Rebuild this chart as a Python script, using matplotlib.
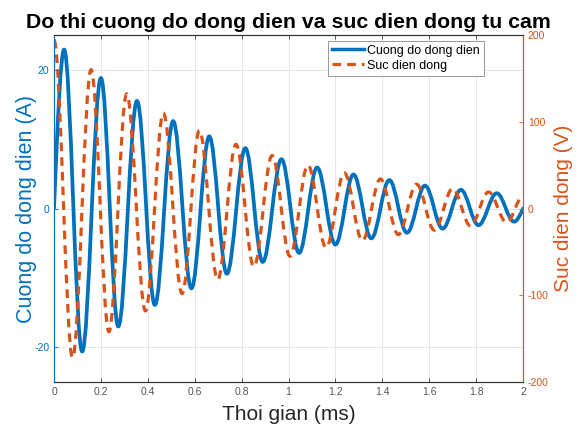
import matplotlib
matplotlib.use("Agg")
import matplotlib.pyplot as plt
from matplotlib.path import Path
from matplotlib.patches import PathPatch
from matplotlib.lines import Line2D

# ====== data (extrema of each curve) ======
# current (A): starts at 0, then alternating peaks / troughs
i_t = [0.0, 0.043, 0.120, 0.200, 0.274, 0.354, 0.430, 0.508, 0.586, 0.662, 0.737,
       0.816, 0.890, 0.970, 1.045, 1.122, 1.200, 1.277, 1.353, 1.430, 1.505,
       1.582, 1.657, 1.735, 1.810, 1.888, 1.962, 2.0]
i_v = [0.0, 22.9, -20.6, 18.8, -17.0, 15.5, -13.9, 12.6, -11.5, 10.4, -9.4,
       8.7, -7.7, 7.1, -6.4, 5.9, -5.2, 4.9, -4.3, 4.1, -3.5,
       3.3, -2.9, 2.7, -2.4, 2.2, -1.9, 0.0]

# emf (V): starts near its first peak
e_t = [0.0, 0.079, 0.158, 0.234, 0.310, 0.390, 0.466, 0.546, 0.620, 0.698, 0.776,
       0.852, 0.930, 1.006, 1.083, 1.160, 1.238, 1.315, 1.392, 1.468, 1.546,
       1.622, 1.700, 1.776, 1.853, 1.930, 2.0]
e_v = [194, -172, 160, -142, 132, -118, 110, -98, 90, -82, 74,
       -67, 61, -55, 50, -45, 41, -37, 34, -30, 28,
       -25, 23, -20, 19, -16, 14]

xticks = [0, 0.2, 0.4, 0.6, 0.8, 1, 1.2, 1.4, 1.6, 1.8, 2]
xticklabels = ["0", "0.2", "0.4", "0.6", "0.8", "1", "1.2", "1.4", "1.6", "1.8", "2"]
left_ticks = [-20, 0, 20]
right_ticks = [-200, -100, 0, 100, 200]

BLUE = "#0072BD"
ORANGE = "#D95319"
K = 0.3634  # control point fraction for half-cosine shaped bezier


def wave_path(t, y, start_zero=False, end_zero=False):
    verts = [(t[0], y[0])]
    codes = [Path.MOVETO]
    n = len(t)
    for i in range(n - 1):
        dt = t[i + 1] - t[i]
        if i == 0 and start_zero:
            c1 = (t[i] + 0.33 * dt, y[i] + 0.52 * (y[i + 1] - y[i]))
            c2 = (t[i + 1] - 0.33 * dt, y[i + 1])
        elif i == n - 2 and end_zero:
            c1 = (t[i] + 0.33 * dt, y[i])
            c2 = (t[i + 1] - 0.33 * dt, y[i + 1] + 0.52 * (y[i] - y[i + 1]))
        else:
            c1 = (t[i] + K * dt, y[i])
            c2 = (t[i + 1] - K * dt, y[i + 1])
        verts += [c1, c2, (t[i + 1], y[i + 1])]
        codes += [Path.CURVE4, Path.CURVE4, Path.CURVE4]
    return Path(verts, codes)


plt.rcParams["font.family"] = ["Liberation Sans", "DejaVu Sans"]
plt.rcParams["axes.unicode_minus"] = False

fig = plt.figure(figsize=(5.79, 4.30), dpi=100)
ax = fig.add_axes([0.0933, 0.1116, 0.81, 0.807])
ax2 = ax.twinx()

ax.add_patch(PathPatch(wave_path(i_t, i_v, start_zero=True, end_zero=True),
                       fill=False, edgecolor=BLUE, lw=2.7, capstyle="round",
                       joinstyle="round"))
ax2.add_patch(PathPatch(wave_path(e_t, e_v), fill=False, edgecolor=ORANGE,
                        lw=2.3, linestyle=(0, (2.7, 1.9))))

ax.set_xlim(0, 2)
ax.set_ylim(-25, 25)
ax2.set_ylim(-200, 200)

ax.set_xticks(xticks)
ax.set_xticklabels(xticklabels)
ax.set_yticks(left_ticks)
ax2.set_yticks(right_ticks)

ax.grid(True, color="#e2e2e2", lw=0.6)
ax.set_axisbelow(True)

for a in (ax, ax2):
    a.tick_params(direction="in", length=3, width=0.6, labelsize=7.5)
ax.tick_params(axis="x", colors="#404040", top=True, labelcolor="#555555")
ax.tick_params(axis="y", colors=BLUE)
ax2.tick_params(axis="y", colors=ORANGE)

ax.spines["left"].set_color(BLUE)
ax2.spines["left"].set_color(BLUE)
ax.spines["right"].set_color(ORANGE)
ax2.spines["right"].set_color(ORANGE)
for a in (ax, ax2):
    a.spines["top"].set_color("#333333")
    a.spines["bottom"].set_color("#333333")
    for s in a.spines.values():
        s.set_linewidth(0.8)

ax.set_xlabel("Thoi gian (ms)", fontsize=15, color="#262626", labelpad=6)
ax.set_ylabel("Cuong do dong dien (A)", fontsize=15.5, color=BLUE, labelpad=-2)
ax2.set_ylabel("Suc dien dong (V)", fontsize=15, color=ORANGE, labelpad=4)
ax.set_title("Do thi cuong do dong dien va suc dien dong tu cam",
             fontsize=15.3, fontweight="bold", pad=5)

handles = [Line2D([], [], color=BLUE, lw=2.5),
           Line2D([], [], color=ORANGE, lw=2.3, linestyle=(0, (2.7, 1.9)))]
leg = ax2.legend(handles, ["Cuong do dong dien", "Suc dien dong"],
                 loc="upper right", bbox_to_anchor=(0.922, 0.99), fontsize=9,
                 fancybox=False, framealpha=1, edgecolor="#888888",
                 handlelength=2.6, handletextpad=0.25, borderpad=0.3,
                 labelspacing=0.25, borderaxespad=0.2)
leg.get_frame().set_linewidth(0.6)

fig.savefig("out.png", dpi=100)
